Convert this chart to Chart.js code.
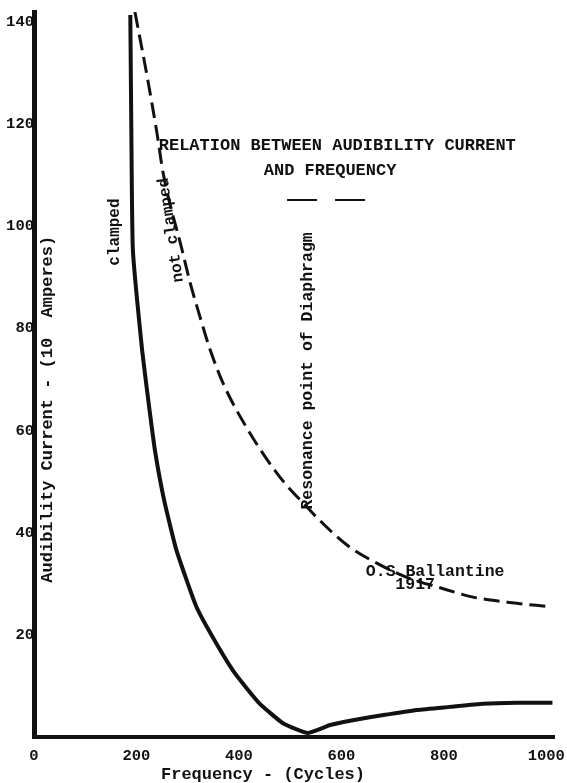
<!DOCTYPE html>
<html>
<head>
<meta charset="utf-8">
<title>Relation between audibility current and frequency</title>
<script src="https://cdn.jsdelivr.net/npm/chart.js@4.4.1/dist/chart.umd.min.js"></script>
<style>
  html, body { margin: 0; padding: 0; background: #fff; }
  #wrap { width: 567px; height: 783px; position: relative; }
</style>
</head>
<body>
<div id="wrap"><canvas id="chart"></canvas></div>
<script>
// Values: frequency in cycles, current in the plotted units
const clampedFreq = [188, 190, 193, 211, 223, 236, 254, 278, 317, 352, 392, 439, 486, 535, 578, 617, 682, 748, 812, 877, 943, 1012];
const clampedCurrent = [141.4, 118.9, 95.4, 75.8, 66.0, 56.2, 46.4, 36.6, 25.5, 19.0, 12.5, 6.7, 2.7, 0.8, 2.35, 3.2, 4.3, 5.3, 5.9, 6.5, 6.7, 6.7];

const notClampedFreq = [197, 221, 240, 252, 289, 305, 324, 344, 369, 418, 480, 535, 553, 611, 670, 729, 787, 857, 924, 1008];
const notClampedCurrent = [142, 129.3, 118.3, 110.5, 95.4, 88.9, 82.3, 75.8, 69.3, 60.1, 50.9, 44.8, 42.9, 37.6, 34.0, 31.2, 29.4, 27.4, 26.4, 25.5];

const xTicks = [0, 200, 400, 600, 800, 1000];
const yTicks = [20, 40, 60, 80, 100, 120, 140];

const ink = "#111";
const typewriter = "'Liberation Mono', 'DejaVu Sans Mono', monospace";

// typed labels on the sheet, placed in data units
const notes = [
    { text: "RELATION BETWEEN AUDIBILITY CURRENT", x: 592, y: 115.9, angle: 0, size: 17 },
    { text: "AND FREQUENCY", x: 578, y: 111, angle: 0, size: 17 },
    { text: "clamped", x: 158, y: 98.9, angle: -90, size: 16 },
    { text: "not clamped", x: 268, y: 99.3, angle: -98.5, size: 16 },
    { text: "Resonance point of Diaphragm", x: 535, y: 71.7, angle: -90, size: 16.5 },
    { text: "O.S.Ballantine", x: 783, y: 32.3, angle: 0, size: 16.5 },
    { text: "1917", x: 744, y: 29.8, angle: 0, size: 16.5 },
    { text: "Audibility Current - (10  Amperes)", x: 27, y: 64.2, angle: -90, size: 17 },
];

const toPoints = (xs, ys) => xs.map((v, i) => ({ x: v, y: ys[i] }));

const notesPlugin = {
    id: "notes",
    afterDatasetsDraw(chart) {
        const { ctx, chartArea, scales: { x, y } } = chart;
        ctx.save();
        ctx.fillStyle = ink;
        ctx.strokeStyle = ink;
        ctx.textAlign = "center";
        ctx.textBaseline = "middle";

        notes.forEach((n) => {
            ctx.save();
            ctx.translate(x.getPixelForValue(n.x), y.getPixelForValue(n.y));
            ctx.rotate((n.angle * Math.PI) / 180);
            ctx.font = `bold ${n.size}px ${typewriter}`;
            ctx.fillText(n.text, 0, 0);
            ctx.restore();
        });

        // short dashed rule under the heading
        const ky = y.getPixelForValue(105.2);
        ctx.lineWidth = 2;
        ctx.setLineDash([30, 18]);
        ctx.beginPath();
        ctx.moveTo(x.getPixelForValue(494), ky);
        ctx.lineTo(x.getPixelForValue(650), ky);
        ctx.stroke();
        ctx.setLineDash([]);

        // axis title under the frequency ticks
        ctx.font = `bold 17px ${typewriter}`;
        ctx.fillText("Frequency - (Cycles)", x.getPixelForValue(447), chartArea.bottom + 38);
        ctx.restore();
    },
};

new Chart(document.getElementById("chart").getContext("2d"), {
    type: "line",
    data: {
        datasets: [
            {
                label: "clamped",
                data: toPoints(clampedFreq, clampedCurrent),
                borderColor: ink,
                borderWidth: 4,
                pointRadius: 0,
                tension: 0.15,
                fill: false,
            },
            {
                label: "not clamped",
                data: toPoints(notClampedFreq, notClampedCurrent),
                borderColor: ink,
                borderWidth: 3,
                borderDash: [16, 7],
                pointRadius: 0,
                cubicInterpolationMode: "monotone",
                fill: false,
            },
        ],
    },
    options: {
        responsive: true,
        maintainAspectRatio: false,
        animation: false,
        layout: {
            padding: { top: 12, right: 13, left: 0, bottom: 0 },
        },
        plugins: {
            legend: { display: false },
            tooltip: { enabled: false },
        },
        scales: {
            x: {
                type: "linear",
                min: 0,
                max: 1015,
                afterBuildTicks(scale) {
                    scale.ticks = xTicks.map((v) => ({ value: v }));
                },
                afterFit(scale) {
                    scale.height = 46;
                    scale.paddingLeft = 0;
                    scale.paddingRight = 0;
                },
                grid: { display: false, drawTicks: false },
                border: { display: true, color: ink, width: 4 },
                ticks: {
                    color: ink,
                    padding: 10,
                    maxRotation: 0,
                    callback: (v) => String(v),
                    font: { family: typewriter, size: 15.5, weight: "bold" },
                },
            },
            y: {
                type: "linear",
                min: 0,
                max: 142,
                afterBuildTicks(scale) {
                    scale.ticks = yTicks.map((v) => ({ value: v }));
                },
                afterFit(scale) {
                    scale.width = 34;
                    scale.paddingTop = 0;
                    scale.paddingBottom = 0;
                },
                grid: { display: false, drawTicks: false },
                border: { display: true, color: ink, width: 5 },
                ticks: {
                    color: ink,
                    padding: 0,
                    callback: (v) => String(v),
                    font: { family: typewriter, size: 15.5, weight: "bold" },
                },
            },
        },
    },
    plugins: [notesPlugin],
});
</script>
</body>
</html>
